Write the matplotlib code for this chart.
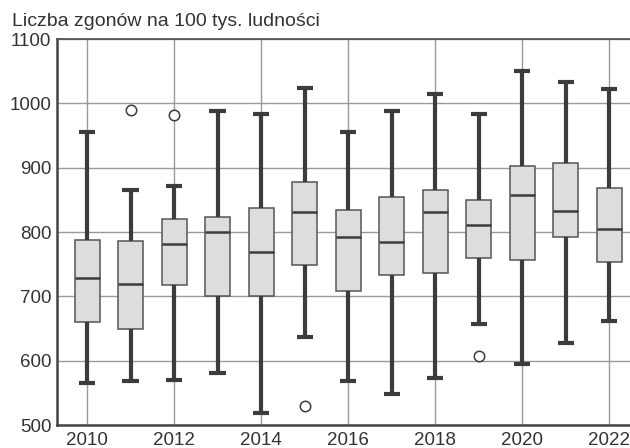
import matplotlib

matplotlib.use("Agg")
import matplotlib.pyplot as plt

years = list(range(2010, 2023))
whislo = [565, 568, 570, 581, 519, 637, 568, 548, 573, 657, 595, 628, 662]
q1 = [660, 650, 717, 700, 700, 748, 708, 733, 736, 760, 757, 793, 753]
med = [728, 719, 782, 800, 769, 831, 792, 785, 831, 811, 858, 833, 805]
q3 = [787, 786, 820, 824, 838, 878, 834, 855, 866, 850, 903, 908, 868]
whishi = [956, 865, 872, 988, 984, 1024, 956, 988, 1014, 983, 1051, 1033, 1022]
fliers = [[], [989], [982], [], [], [530], [], [], [], [607], [], [], []]

title = "Liczba zgonów na 100 tys. ludności"
yticks = [500, 600, 700, 800, 900, 1000, 1100]
xticks = [2010, 2012, 2014, 2016, 2018, 2020, 2022]

plt.rcParams["font.family"] = ["Liberation Sans", "DejaVu Sans"]

dark = "#3c3c3c"
stats = [
    dict(whislo=lo, q1=a, med=m, q3=b, whishi=hi, fliers=f)
    for lo, a, m, b, hi, f in zip(whislo, q1, med, q3, whishi, fliers)
]

fig = plt.figure(figsize=(6.3, 4.48), dpi=100)
ax = fig.add_axes([57 / 630, 1 - 425 / 448, 1 - 57 / 630, (425 - 39) / 448])

ax.bxp(
    stats,
    positions=years,
    widths=0.575,
    capwidths=0.37,
    patch_artist=True,
    boxprops=dict(facecolor="#dddde0", edgecolor="#555555", linewidth=1.1),
    medianprops=dict(color=dark, linewidth=1.8),
    whiskerprops=dict(color=dark, linewidth=3.0, solid_capstyle="butt"),
    capprops=dict(color=dark, linewidth=3.0, solid_capstyle="butt"),
    flierprops=dict(marker="o", markerfacecolor="white", markeredgecolor=dark,
                    markersize=7.5, markeredgewidth=1.1),
    zorder=3,
)

ax.set_xlim(2009.31, 2022.48)
ax.set_ylim(500, 1100)
ax.set_xticks(xticks)
ax.set_xticklabels([str(x) for x in xticks])
ax.set_yticks(yticks)
ax.tick_params(length=0, labelsize=13.5, colors="#333333", pad=4)
ax.tick_params(axis="x", pad=5)
ax.grid(True, color="#9a9a9a", linewidth=1.0, zorder=0)
ax.set_axisbelow(True)

for side in ["left", "bottom"]:
    ax.spines[side].set_color("#444444")
    ax.spines[side].set_linewidth(1.8)
ax.spines["top"].set_color("#555555")
ax.spines["top"].set_linewidth(1.3)
ax.spines["right"].set_visible(False)

fig.text(12 / 630, 1 - 26 / 448, title, fontsize=14, color="#333333",
         ha="left", va="baseline")

fig.savefig("out.png", dpi=100)
